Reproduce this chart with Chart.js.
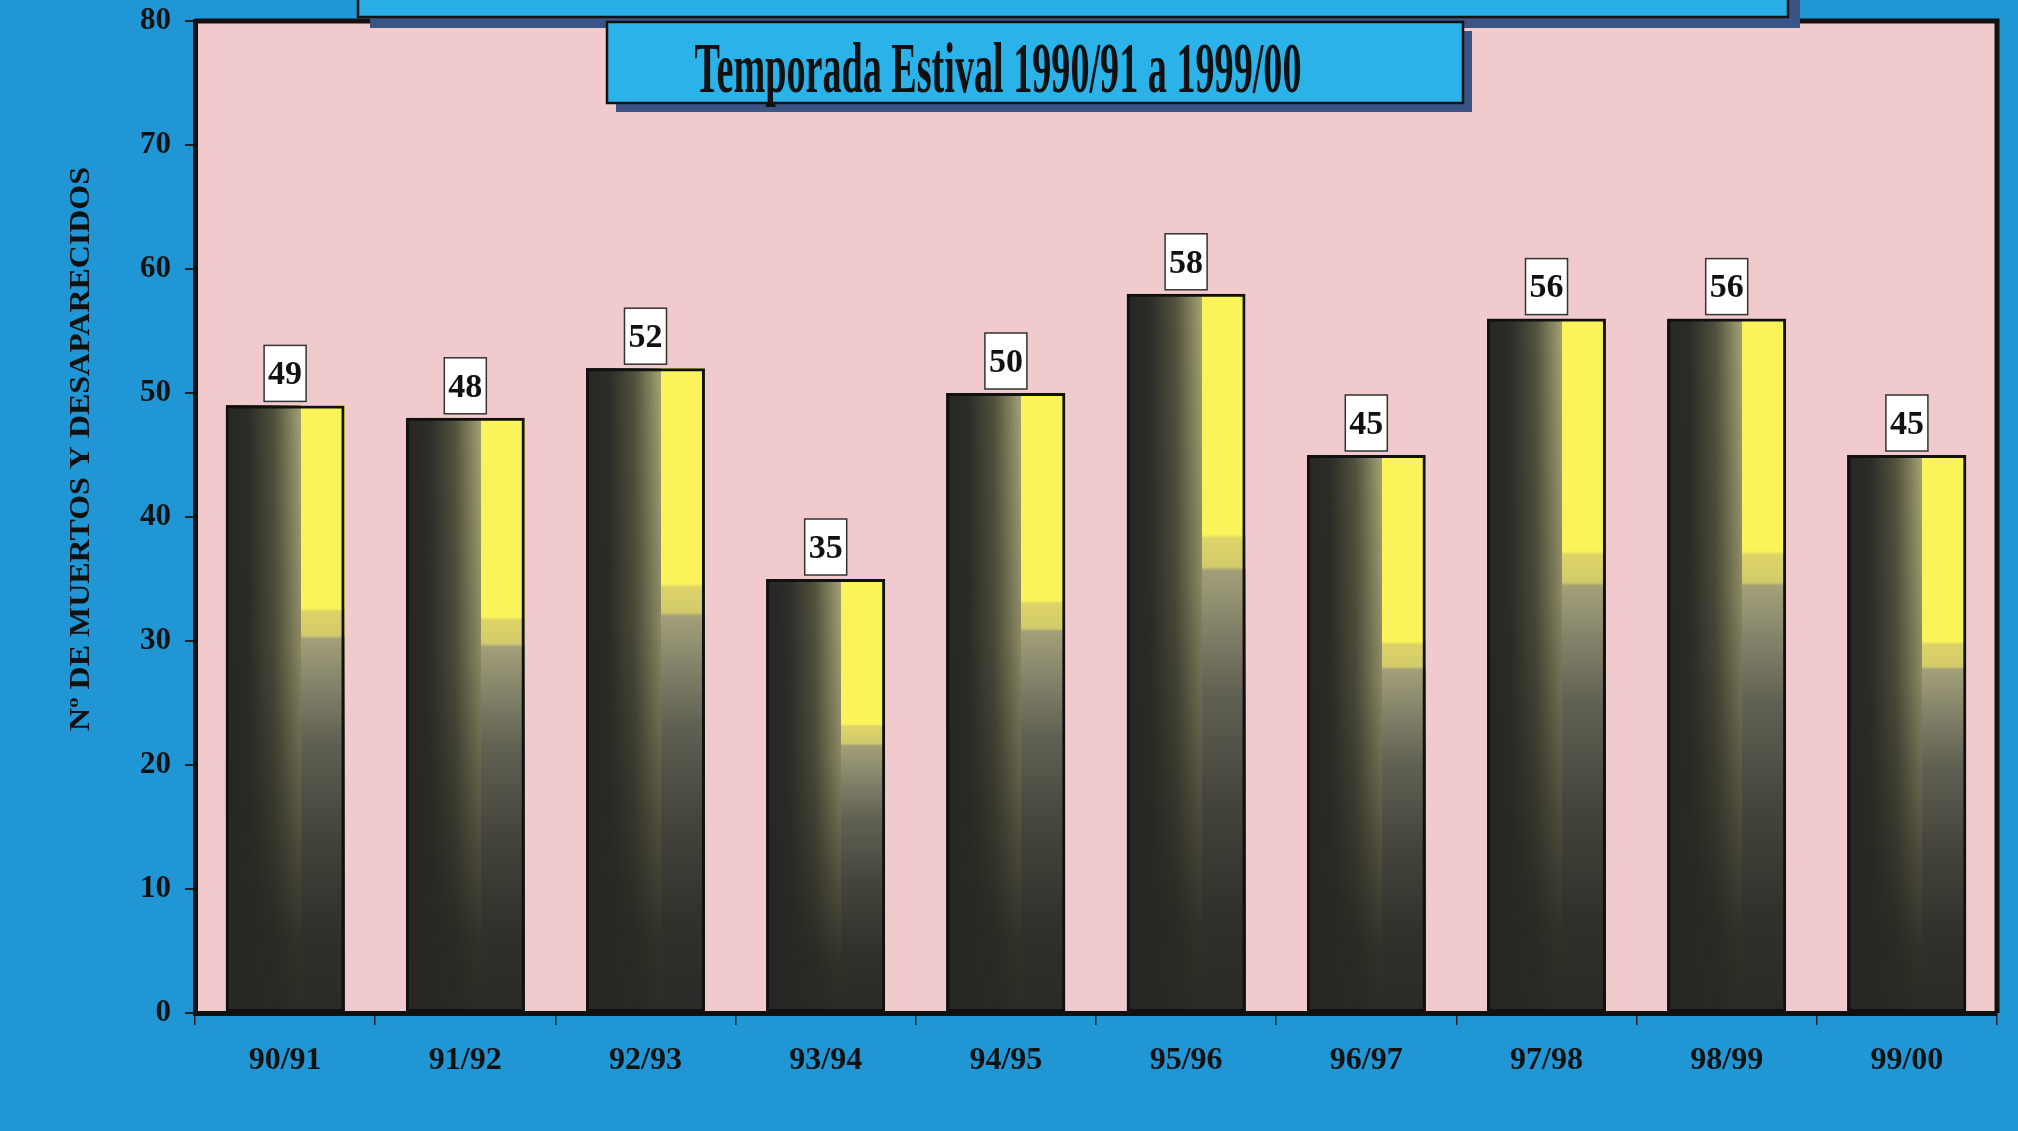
<!DOCTYPE html>
<html>
<head>
<meta charset="utf-8">
<script src="https://cdn.jsdelivr.net/npm/chart.js@4.4.0/dist/chart.umd.min.js"></script>
<style>
  html, body { margin: 0; padding: 0; background: #2097d4; }
  #wrap { width: 2018px; height: 1131px; }
</style>
</head>
<body>
<div id="wrap"><canvas id="grafico" width="2018" height="1131"></canvas></div>
<script>
// datos
const temporadas = ['90/91', '91/92', '92/93', '93/94', '94/95', '95/96', '96/97', '97/98', '98/99', '99/00'];
const muertos = [49, 48, 52, 35, 50, 58, 45, 56, 56, 45];
const marcasY = [0, 10, 20, 30, 40, 50, 60, 70, 80];
const titulo = 'Temporada Estival 1990/91 a 1999/00';
const tituloEje = 'Nº DE MUERTOS Y DESAPARECIDOS';

const serif = "'Liberation Serif', 'Times New Roman', serif";

// fondo rosado del area de trazado
const fondoPlot = {
    id: 'fondoPlot',
    beforeDraw(chart) {
        const { ctx, chartArea: a } = chart;
        ctx.save();
        ctx.fillStyle = '#f1cacd';
        ctx.fillRect(a.left, a.top, a.right - a.left, a.bottom - a.top);
        ctx.restore();
    }
};

// sombreado de las barras (oscuro a la izquierda, amarillo arriba a la derecha)
const sombreado = {
    id: 'sombreado',
    beforeDatasetsDraw(chart) {
        const ctx = chart.ctx;
        const meta = chart.getDatasetMeta(0);
        ctx.save();
        meta.data.forEach(function(bar) {
            const p = bar.getProps(['x', 'y', 'base', 'width'], true);
            const L = Math.round(p.x - p.width / 2), R = Math.round(p.x + p.width / 2);
            const T = Math.round(p.y), B = Math.round(p.base), h = B - T;
            const corte = Math.round(L + (R - L) * 0.63);

            const g = ctx.createLinearGradient(L, 0, corte, 0);
            g.addColorStop(0, '#262623');
            g.addColorStop(0.3, '#2c2c28');
            g.addColorStop(0.65, '#52523e');
            g.addColorStop(1, '#a4a272');
            ctx.fillStyle = g;
            ctx.fillRect(L, T, corte - L, h);

            const v = ctx.createLinearGradient(0, T, 0, B);
            v.addColorStop(0, 'rgba(38,38,34,0)');
            v.addColorStop(0.4, 'rgba(38,38,34,0.2)');
            v.addColorStop(0.7, 'rgba(38,38,34,0.65)');
            v.addColorStop(0.88, 'rgba(38,38,34,0.9)');
            v.addColorStop(1, 'rgba(38,38,34,0.95)');
            ctx.fillStyle = v;
            ctx.fillRect(L, T, corte - L, h);

            const r = ctx.createLinearGradient(0, T, 0, B);
            r.addColorStop(0, '#fbf35a');
            r.addColorStop(0.335, '#fbf35a');
            r.addColorStop(0.34, '#ddd468');
            r.addColorStop(0.38, '#d2ca6a');
            r.addColorStop(0.385, '#a2a078');
            r.addColorStop(0.46, '#84836a');
            r.addColorStop(0.56, '#5f5f52');
            r.addColorStop(0.7, '#45453d');
            r.addColorStop(0.86, '#31312c');
            r.addColorStop(1, '#2a2a26');
            ctx.fillStyle = r;
            ctx.fillRect(corte, T, R - corte, h);
        });
        ctx.restore();
    }
};

// recuadros con el valor encima de cada barra
const etiquetas = {
    id: 'etiquetas',
    afterDatasetsDraw(chart) {
        const ctx = chart.ctx;
        const meta = chart.getDatasetMeta(0);
        ctx.save();
        meta.data.forEach(function(bar, i) {
            const w = 42, h = 56;
            const x0 = bar.x - w / 2, y0 = bar.y - 4 - h;
            ctx.fillStyle = '#ffffff';
            ctx.fillRect(x0, y0, w, h);
            ctx.strokeStyle = '#333';
            ctx.lineWidth = 1.5;
            ctx.strokeRect(x0, y0, w, h);
            ctx.fillStyle = '#111';
            ctx.font = 'bold 34px ' + serif;
            ctx.textAlign = 'center';
            ctx.textBaseline = 'middle';
            ctx.fillText(String(muertos[i]), bar.x, y0 + h / 2 + 2);
        });
        ctx.restore();
    }
};

// marco, recuadros de titulo y titulo del eje
const marco = {
    id: 'marco',
    afterDraw(chart) {
        const { ctx, chartArea: a } = chart;
        ctx.save();
        ctx.strokeStyle = '#111';
        ctx.lineWidth = 5;
        ctx.beginPath();
        ctx.moveTo(a.left, a.top);
        ctx.lineTo(a.right, a.top);
        ctx.lineTo(a.right, a.bottom);
        ctx.stroke();

        // recuadro superior cortado
        ctx.fillStyle = '#3a5486';
        ctx.fillRect(370, 0, 1430, 28);
        ctx.fillStyle = '#29afe6';
        ctx.fillRect(358, -5, 1430, 22);
        ctx.lineWidth = 2.5;
        ctx.strokeRect(358, -5, 1430, 22);

        // recuadro del titulo
        ctx.fillStyle = '#3a5486';
        ctx.fillRect(616, 31, 856, 81);
        ctx.fillStyle = '#2bb3e9';
        ctx.fillRect(607, 22, 856, 81);
        ctx.strokeRect(607, 22, 856, 81);

        ctx.fillStyle = '#111';
        ctx.font = 'bold 72px ' + serif;
        ctx.textAlign = 'center';
        ctx.textBaseline = 'alphabetic';
        const ancho = ctx.measureText(titulo).width;
        ctx.save();
        ctx.translate(998, 92);
        ctx.scale(607 / ancho, 1);
        ctx.fillText(titulo, 0, 0);
        ctx.restore();

        // titulo del eje Y
        ctx.font = 'bold 29px ' + serif;
        const anchoEje = ctx.measureText(tituloEje).width;
        ctx.save();
        ctx.translate(82, 449);
        ctx.rotate(-Math.PI / 2);
        ctx.scale(564 / anchoEje, 1);
        ctx.textBaseline = 'middle';
        ctx.fillText(tituloEje, 0, 0);
        ctx.restore();
        ctx.restore();
    }
};

const ctx = document.getElementById('grafico').getContext('2d');

const grafico = new Chart(ctx, {
    type: 'bar',
    data: {
        labels: temporadas,
        datasets: [{
            data: muertos,
            backgroundColor: 'rgba(0,0,0,0)',
            borderColor: '#111',
            borderWidth: 3,
            borderSkipped: false,
            barPercentage: 0.66,
            categoryPercentage: 1
        }]
    },
    options: {
        responsive: false,
        animation: false,
        devicePixelRatio: 1,
        layout: { padding: { left: 0, right: 21, top: 21, bottom: 0 } },
        plugins: {
            legend: { display: false },
            tooltip: { enabled: false }
        },
        scales: {
            x: {
                afterFit: function(scale) {
                    scale.height = 118;
                    scale.paddingLeft = 0;
                    scale.paddingRight = 0;
                },
                grid: {
                    offset: true,
                    drawOnChartArea: false,
                    drawTicks: true,
                    tickLength: 12,
                    color: '#222',
                    lineWidth: 1.5
                },
                border: { display: true, color: '#111', width: 5 },
                ticks: {
                    color: '#111',
                    padding: 17,
                    font: { family: serif, size: 32, weight: 'bold' }
                }
            },
            y: {
                min: 0,
                max: 80,
                afterFit: function(scale) {
                    scale.width = 195;
                    scale.paddingTop = 0;
                    scale.paddingBottom = 0;
                },
                afterBuildTicks: function(scale) {
                    scale.ticks = marcasY.map(function(v) { return { value: v }; });
                },
                grid: {
                    drawOnChartArea: false,
                    drawTicks: true,
                    tickLength: 10,
                    color: '#222',
                    lineWidth: 2
                },
                border: { display: true, color: '#111', width: 5 },
                ticks: {
                    color: '#111',
                    padding: 14,
                    font: { family: serif, size: 31, weight: 'bold' }
                }
            }
        }
    },
    plugins: [fondoPlot, sombreado, etiquetas, marco]
});
</script>
</body>
</html>
